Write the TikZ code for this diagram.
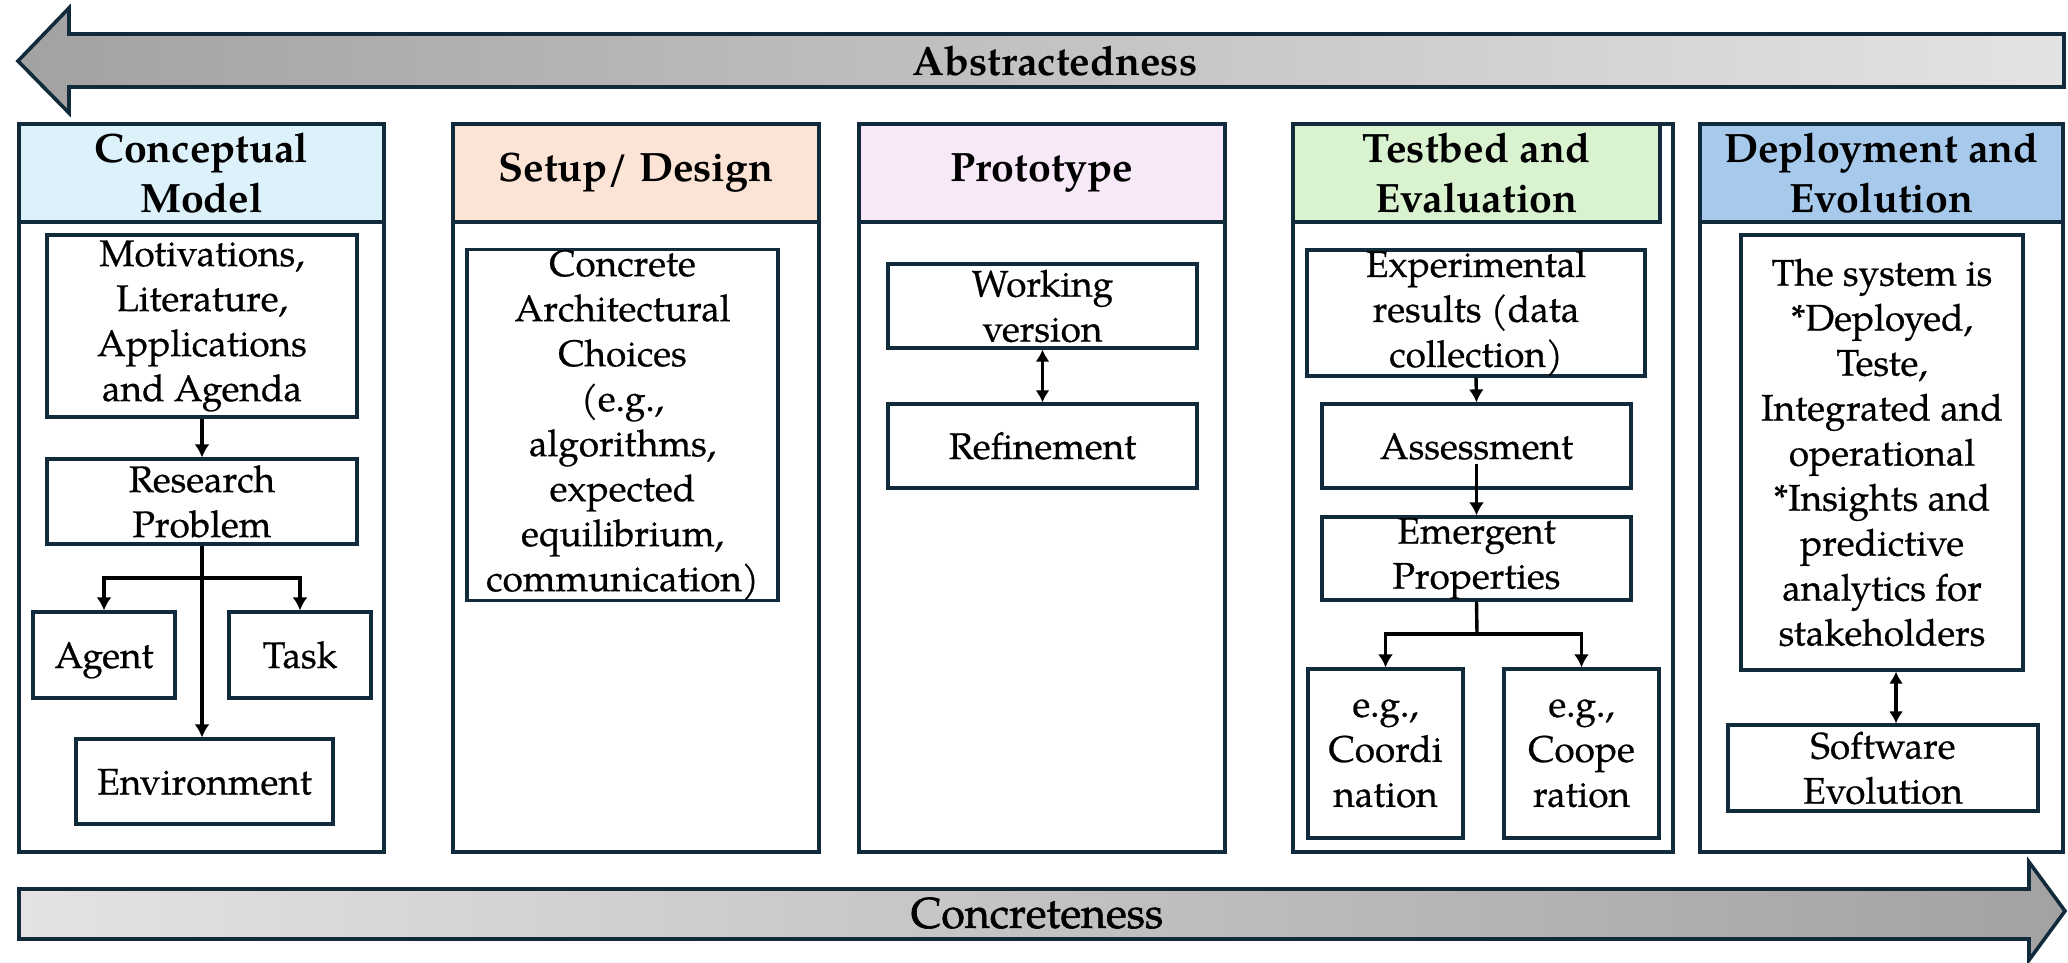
\documentclass[tikz,border=0pt]{standalone}
\usepackage{fontspec}
\setmainfont{texgyrepagella}[Extension=.otf, UprightFont=*-regular, BoldFont=*-bold, ItalicFont=*-italic, BoldItalicFont=*-bolditalic]
\newfontfamily\heavyserif{texgyrepagella}[Extension=.otf, UprightFont=*-regular, FakeBold=0.6]
\newfontfamily\heavierserif{texgyrepagella}[Extension=.otf, UprightFont=*-regular, FakeBold=1.4]
\usetikzlibrary{arrows.meta}

\definecolor{edge}{HTML}{112B3C}
\definecolor{hdA}{HTML}{DDF1FA}
\definecolor{hdB}{HTML}{FBE3D6}
\definecolor{hdC}{HTML}{F7E9F7}
\definecolor{hdD}{HTML}{D9F2D0}
\definecolor{hdE}{HTML}{A6C9EC}
\definecolor{greyDark}{HTML}{A2A2A2}
\definecolor{greyLight}{HTML}{E3E3E3}

\newcommand\hdrfont{\fontsize{41}{50}\selectfont\bfseries}
\newcommand\cellfont{\heavyserif\fontsize{37}{45}\selectfont}

\tikzset{
  frame/.style={draw=edge, line width=3.6pt, inner sep=0pt, rectangle},
  hdr/.style={frame, font=\hdrfont, align=center},
  cell/.style={draw=edge, line width=3.2pt, inner sep=0pt, rectangle, align=center, font=\cellfont},
  oneline/.style={text height=26pt, text depth=0pt},
  link/.style={line width=3.4pt, black, -{Latex[length=13pt,width=15pt]}},
  twoway/.style={line width=3.4pt, black, {Latex[length=12pt,width=14pt]}-{Latex[length=12pt,width=14pt]}},
  plain/.style={line width=3.4pt, black},
  bigarrow/.style={draw=edge, line width=3.6pt, line join=miter},
}

\begin{document}
\begin{tikzpicture}[x=1pt,y=-1pt]
\useasboundingbox (0,0) rectangle (2068,962);

% direction arrows
\path[bigarrow, left color=greyDark, right color=greyLight]
  (18,61) -- (69,8) -- (69,34) -- (2064,34) -- (2064,87) -- (69,87) -- (69,113) -- cycle;
\node[font=\hdrfont] (abs) at (1055,61) {Abstractedness};

\path[bigarrow, left color=greyLight, right color=greyDark]
  (19,889) -- (2029,889) -- (2029,862) -- (2065,911) -- (2029,960) -- (2029,939) -- (19,939) -- cycle;
\node[font=\heavierserif\fontsize{43}{50}\selectfont] (conc) at (1037,913) {Concreteness};

% column frames
\node[frame, minimum width=365, minimum height=728] (colA) at (201.5,488) {};
\node[frame, minimum width=366, minimum height=728] (colB) at (636,488) {};
\node[frame, minimum width=366, minimum height=728] (colC) at (1042,488) {};
\node[frame, minimum width=380, minimum height=728] (colD) at (1483,488) {};
\node[frame, minimum width=363, minimum height=728] (colE) at (1881.5,488) {};

% column headers
\node[hdr, fill=hdA, minimum width=365, minimum height=98] (hA) at (201.5,173) {Conceptual\\Model};
\node[hdr, fill=hdB, minimum width=366, minimum height=98] (hB) at (636,173) {Setup/ Design};
\node[hdr, fill=hdC, minimum width=366, minimum height=98] (hC) at (1042,173) {Prototype};
\node[hdr, fill=hdD, minimum width=367, minimum height=98] (hD) at (1476.5,173) {Testbed and\\Evaluation};
\node[hdr, fill=hdE, minimum width=363, minimum height=98] (hE) at (1881.5,173) {Deployment and\\Evolution};

% conceptual model
\node[cell, minimum width=310, minimum height=182] (mot) at (202,326)
  {Motivations,\\Literature,\\Applications\\and Agenda};
\node[cell, minimum width=310, minimum height=85] (rp) at (202,501.5) {Research\\Problem};
\node[cell, oneline, minimum width=142, minimum height=86] (agent) at (104,655) {Agent};
\node[cell, oneline, minimum width=142, minimum height=86] (task) at (300,655) {Task};
\node[cell, oneline, minimum width=257, minimum height=85] (env) at (204.5,781.5) {Environment};
\coordinate (fork1) at (202,578);
\draw[link] (mot.south) -- (rp.north);
\draw[link] (rp.south) -- (rp.south |- env.north);
\draw[link] (fork1) -| (agent.north);
\draw[link] (fork1) -| (task.north);

% setup / design
\node[cell, minimum width=311, minimum height=350] (arch) at (622.5,425)
  {Concrete\\Architectural\\Choices\\(e.g.,\\algorithms,\\expected\\equilibrium,\\communication)};

% prototype
\node[cell, minimum width=309, minimum height=84] (work) at (1042.5,306) {Working\\version};
\node[cell, oneline, minimum width=309, minimum height=84] (refine) at (1042.5,446) {Refinement};
\draw[twoway] (work.south) -- (refine.north);

% testbed and evaluation
\node[cell, minimum width=338, minimum height=126] (expr) at (1476,313)
  {Experimental\\results (data\\collection)};
\node[cell, oneline, minimum width=309, minimum height=84] (asm) at (1476.5,446) {Assessment};
\node[cell, minimum width=309, minimum height=83] (emg) at (1476.5,558.5) {Emergent\\Properties};
\node[cell, minimum width=155, minimum height=169] (coord) at (1385.5,753.5) {e.g.,\\Coordi\\nation};
\node[cell, minimum width=155, minimum height=169] (coop) at (1581.5,753.5) {e.g.,\\Coope\\ration};
\coordinate (fork2) at (1477,634);
\draw[link] (expr.south) -- (asm.north);
\draw[link] ([yshift=26pt]asm.south) -- (emg.north);
\draw[plain] (emg.south) -- (fork2);
\draw[link] (fork2) -| (coord.north);
\draw[link] (fork2) -| (coop.north);

% deployment and evolution
\node[cell, minimum width=282, minimum height=435] (sys) at (1882,452.5)
  {The system is\\*Deployed,\\Teste,\\Integrated and\\operational\\*Insights and\\predictive\\analytics for\\stakeholders};
\node[cell, minimum width=310, minimum height=86] (soft) at (1883,768) {Software\\Evolution};
\draw[twoway] ([xshift=14pt]sys.south) -- ([xshift=14pt]sys.south |- soft.north);
\end{tikzpicture}
\end{document}
